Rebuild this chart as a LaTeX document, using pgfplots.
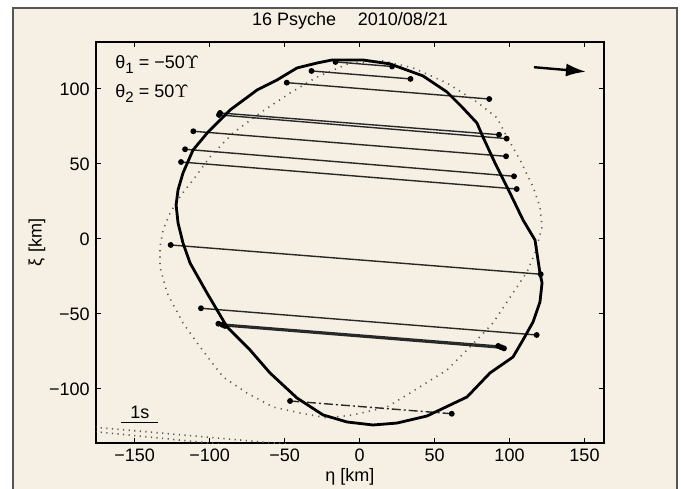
\documentclass[border=0pt]{standalone}
\usepackage{fontspec}
\setmainfont{Liberation Sans}
\usepackage{pgfplots}
\pgfplotsset{compat=1.18}
\usetikzlibrary{arrows.meta}

\definecolor{panel}{RGB}{245,240,227}
\definecolor{rim}{RGB}{85,85,85}
\definecolor{chord}{RGB}{40,40,40}
\definecolor{dotc}{RGB}{90,90,90}

\newcommand{\sub}[1]{\raisebox{-0.55ex}{\fontsize{7.5}{8}\selectfont #1}}

\begin{document}
\fontsize{9}{11}\selectfont
\begin{tikzpicture}
\useasboundingbox (-48pt,-22.5pt) rectangle (292.5pt,221.5pt);
\fill[white] (-48pt,-22.5pt) rectangle (292.5pt,221.5pt);
\filldraw[fill=panel,draw=rim,line width=0.6pt] (-41.5pt,-30pt) rectangle (290.5pt,217.5pt);
\begin{axis}[
  scale only axis, width=254pt, height=200.5pt,
  xmin=-175.7, xmax=163, ymin=-136, ymax=131.3,
  axis background/.style={fill=panel},
  axis line style={line width=0.6pt},
  tick align=inside, tick pos=both, major tick length=2.5pt,
  tick style={line width=0.5pt, black},
  xtick={-150,-100,-50,0,50,100,150},
  xticklabels={−150,−100,−50,0,50,100,150},
  ytick={-100,-50,0,50,100},
  yticklabels={−100,−50,0,50,100},
  tick label style={font=\fontsize{9}{11}\selectfont},
  xlabel={η [km]}, ylabel={ξ [km]},
  label style={font=\fontsize{9}{11}\selectfont},
  xlabel style={at={(axis description cs:0.5,-0.0948)}, anchor=base},
  ylabel style={at={(axis description cs:-0.1161,0.5)}, anchor=center},
  every axis title shift=0pt,
  title={16 Psyche\hspace{1.2em}2010/08/21},
  title style={at={(axis description cs:0.5,1.04)}, anchor=base, font=\fontsize{9}{11}\selectfont},
]
% dotted profile
\addplot[dotc, line width=0.8pt, dash pattern=on 0.6pt off 2.6pt] coordinates {
(-6.3,117.3)(15.7,118.7)(35.7,114)(58.3,104)(78.3,91.3)(91.7,80.7)(98.3,68)(107,52.7)
(115.7,34.7)(120.3,21.3)(121.7,8)(117,-9.3)(111.7,-22)(102.3,-36)(89,-56)(73.7,-72)
(58.3,-87.3)(33.7,-102.7)(18.3,-112)(-4.3,-117.3)(-21.7,-119.3)(-39.7,-116)(-57.7,-112)
(-75,-102.7)(-91,-92)(-106.3,-72)(-117.7,-56)(-128.3,-36)(-133,-18.7)(-133,-5.3)
(-131,6)(-126.3,17.3)(-119,29.3)(-111,39.3)(-99.7,54.7)(-84.3,70.7)(-66.3,84)
(-46.3,97.3)(-28.3,108)(-6.3,117.3)};
% dotted lines at lower left
\addplot[dotc, line width=0.8pt, dash pattern=on 0.6pt off 2.2pt] coordinates {(-180,-125.2)(-40,-137.5)};
\addplot[dotc, line width=0.8pt, dash pattern=on 0.6pt off 2.2pt] coordinates {(-180,-128.1)(-85,-137.5)};
% chords
\pgfplotsset{chordline/.style={chord, line width=0.7pt, mark=*, mark size=1.1pt, mark options={solid, fill=black, draw=black}}}
\addplot[chordline] coordinates {(-16,118)(21.7,115)};
\addplot[chordline] coordinates {(-32,112)(34,106.7)};
\addplot[chordline] coordinates {(-48.5,104.2)(86.5,93.3)};
\addplot[chordline] coordinates {(-93,84)(93,69.5)};
\addplot[chordline] coordinates {(-93.7,82.7)(98.1,66.9)};
\addplot[chordline] coordinates {(-110.8,71.8)(97.7,55.1)};
\addplot[chordline] coordinates {(-116.3,59.8)(103,41.8)};
\addplot[chordline] coordinates {(-119,51.3)(104.8,33.3)};
\addplot[chordline] coordinates {(-125.9,-4)(120.8,-23.5)};
\addplot[chordline] coordinates {(-105.7,-46.2)(118.1,-64)};
\addplot[chordline] coordinates {(-94.1,-56.5)(92.5,-71.3)};
\addplot[chordline] coordinates {(-89.7,-58)(96.3,-72.9)};
\addplot[chordline] coordinates {(-91.5,-57.2)(94.5,-72.2)};
\addplot[chordline, dash pattern=on 4.5pt off 1.5pt on 1pt off 1.5pt] coordinates {(-46.3,-108)(61.5,-116.5)};
% solid shape outline
\addplot[black, line width=1.4pt, line join=round] coordinates {
(-18.3,119.3)(2.3,119.3)(20.3,116.7)(42.3,108.7)(58.3,98)(68.3,88)(78.3,77.3)(82.3,68)
(90.3,50.7)(100.3,30.7)(109,12.7)(117,-0.7)(120.3,-22.7)(121.7,-29.3)(120.3,-42)
(115.7,-55.3)(109,-67.3)(102.3,-78.7)(87,-89.3)(71.7,-105.3)(45,-118)(25,-122.7)
(9,-124)(-8.3,-122)(-24.3,-117.3)(-41.7,-106)(-59.7,-89.3)(-73,-74)(-88.3,-58.7)
(-101.7,-36)(-113,-16)(-117.7,-2.7)(-121,10.7)(-122.3,22.7)(-121,32.7)(-117.7,44)
(-111,59.3)(-101,71.3)(-86.3,86)(-68.3,99.3)(-55,106)(-41.7,114)(-28.3,117.3)(-18.3,119.3)};
% scale bar
\addplot[black, line width=0.6pt] coordinates {(-158.7,-122.5)(-134.3,-122.5)};
\node[anchor=base] at (axis cs:-146.5,-119.5) {1s};
% direction arrow
\addplot[black, line width=1.2pt, -{Latex[length=10pt,width=6.5pt]}] coordinates {(116.3,114.5)(151,111.5)};
% angles
\node[anchor=west] at (axis cs:-167,116.5) {θ\sub{1} = −50$\Upsilon$};
\node[anchor=west] at (axis cs:-167,97) {θ\sub{2} = 50$\Upsilon$};
\end{axis}
\end{tikzpicture}
\end{document}
